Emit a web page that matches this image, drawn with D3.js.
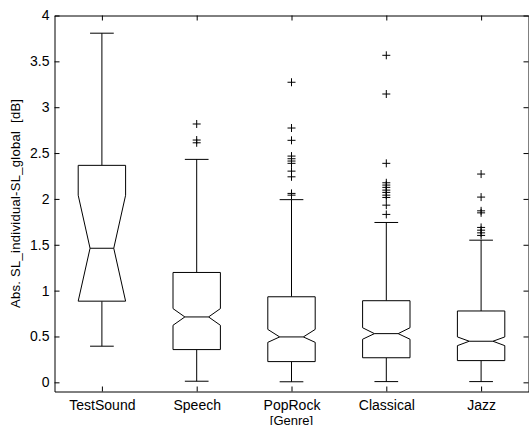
<!DOCTYPE html>
<html>
<head>
<meta charset="utf-8">
<script src="https://cdn.jsdelivr.net/npm/d3@7"></script>
<style>
	body { margin: 0; background: #fff; }
	svg { display: block; font-family: "Liberation Sans", Arial, sans-serif; }
</style>
</head>
<body>
<svg id="chart" width="529" height="425"></svg>
<script>
// box statistics per genre
var categories = ["TestSound", "Speech", "PopRock", "Classical", "Jazz"];
var q1        = [0.885, 0.357, 0.226, 0.268, 0.237];
var q3        = [2.366, 1.198, 0.933, 0.890, 0.778];
var medians   = [1.462, 0.713, 0.495, 0.531, 0.448];
var notchLo   = [0.885, 0.622, 0.436, 0.470, 0.400];
var notchHi   = [2.040, 0.804, 0.577, 0.595, 0.495];
var whiskerLo = [0.394, 0.012, 0.006, 0.008, 0.008];
var whiskerHi = [3.807, 2.431, 1.992, 1.743, 1.550];
var outliers  = [
	[],
	[2.817, 2.642, 2.612],
	[3.272, 2.773, 2.639, 2.467, 2.438, 2.413, 2.388, 2.303, 2.241, 2.060, 2.041],
	[3.566, 3.144, 2.388, 2.176, 2.151, 2.126, 2.096, 2.071, 2.041, 2.016, 1.932, 1.831],
	[2.271, 2.020, 1.870, 1.848, 1.689, 1.659, 1.630, 1.602]
];
var yTicks = [0, 0.5, 1, 1.5, 2, 2.5, 3, 3.5, 4];
var yLabel = "Abs. SL_individual-SL_global  [dB]";
var xLabel = "[Genre]";

var svg = d3.select("#chart");
var axLeft = 54.5, axRight = 528.5, axTop = 15.5, axBottom = 391.5;
var tick = 5;

var x = d3.scaleLinear().domain([0.5, categories.length + 0.5]).range([axLeft, axRight]);
var y = d3.scaleLinear().domain([-0.1, 4]).range([axBottom, axTop]);
var unit = x(1) - x(0);
var boxW = 0.25 * unit, capW = 0.125 * unit;

var boxes = categories.map(function(c, i){
	return {name: c, pos: i + 1, q1: q1[i], q3: q3[i], med: medians[i],
		nlo: notchLo[i], nhi: notchHi[i], lo: whiskerLo[i], hi: whiskerHi[i], out: outliers[i]};
});
var positions = boxes.map(function(d){ return d.pos; });

// axes (MATLAB style: ticks inward, on all four sides)
svg.append("g").attr("transform", "translate(" + axLeft + ",0)")
	.call(d3.axisLeft(y).tickValues(yTicks).tickSizeInner(-tick).tickSizeOuter(0).tickPadding(5).tickFormat(d3.format("~g")));
svg.append("g").attr("transform", "translate(" + axRight + ",0)")
	.call(d3.axisRight(y).tickValues(yTicks).tickSizeInner(-tick).tickSizeOuter(0).tickFormat(""));
svg.append("g").attr("transform", "translate(0," + axBottom + ")")
	.call(d3.axisBottom(x).tickValues(positions).tickSizeInner(-tick).tickSizeOuter(0).tickPadding(9)
		.tickFormat(function(d){ return categories[d - 1]; }));
svg.append("g").attr("transform", "translate(0," + axTop + ")")
	.call(d3.axisTop(x).tickValues(positions).tickSizeInner(-tick).tickSizeOuter(0).tickFormat(""));

svg.selectAll(".domain").attr("stroke", "#000");
svg.selectAll(".tick line").attr("stroke", "#000");
svg.selectAll(".tick text").attr("fill", "#000").style("font-size", "14px").style("font-family", "Liberation Sans, Arial, sans-serif");

svg.append("text")
	.attr("transform", "translate(19.5," + ((axTop + axBottom) / 2) + ") rotate(-90)")
	.attr("text-anchor", "middle")
	.attr("textLength", 209)
	.attr("lengthAdjust", "spacing")
	.style("font-size", "13px")
	.style("white-space", "pre")
	.text(yLabel);

svg.append("text")
	.attr("x", (axLeft + axRight) / 2)
	.attr("y", 425)
	.attr("text-anchor", "middle")
	.style("font-size", "13px")
	.text(xLabel);

var g = svg.append("g").attr("fill", "none").attr("stroke", "#000").attr("stroke-width", 1);

var box = g.selectAll(".box").data(boxes).enter().append("g").attr("class", "box");

// whiskers
box.append("line")
	.attr("x1", function(d){ return x(d.pos); }).attr("x2", function(d){ return x(d.pos); })
	.attr("y1", function(d){ return y(d.q3); }).attr("y2", function(d){ return y(d.hi); });
box.append("line")
	.attr("x1", function(d){ return x(d.pos); }).attr("x2", function(d){ return x(d.pos); })
	.attr("y1", function(d){ return y(d.q1); }).attr("y2", function(d){ return y(d.lo); });
box.append("line")
	.attr("x1", function(d){ return x(d.pos) - capW; }).attr("x2", function(d){ return x(d.pos) + capW; })
	.attr("y1", function(d){ return y(d.hi); }).attr("y2", function(d){ return y(d.hi); });
box.append("line")
	.attr("x1", function(d){ return x(d.pos) - capW; }).attr("x2", function(d){ return x(d.pos) + capW; })
	.attr("y1", function(d){ return y(d.lo); }).attr("y2", function(d){ return y(d.lo); });

// notched box
box.append("path")
	.attr("fill", "#fff")
	.attr("d", function(d){
		var c = x(d.pos);
		var pts = [
			[c - boxW, y(d.q1)], [c - boxW, y(d.nlo)], [c - boxW / 2, y(d.med)], [c - boxW, y(d.nhi)],
			[c - boxW, y(d.q3)], [c + boxW, y(d.q3)], [c + boxW, y(d.nhi)], [c + boxW / 2, y(d.med)],
			[c + boxW, y(d.nlo)], [c + boxW, y(d.q1)]
		];
		return d3.line()(pts) + "Z";
	});

// median
box.append("line")
	.attr("x1", function(d){ return x(d.pos) - boxW / 2; }).attr("x2", function(d){ return x(d.pos) + boxW / 2; })
	.attr("y1", function(d){ return y(d.med); }).attr("y2", function(d){ return y(d.med); });

// outliers as '+'
box.selectAll(".out")
	.data(function(d){ return d.out.map(function(v){ return {pos: d.pos, v: v}; }); })
	.enter().append("path")
	.attr("class", "out")
	.attr("d", function(d){
		var cx = x(d.pos), cy = y(d.v), r = 4;
		return "M" + (cx - r) + "," + cy + "H" + (cx + r) + "M" + cx + "," + (cy - r) + "V" + (cy + r);
	});
</script>
</body>
</html>
